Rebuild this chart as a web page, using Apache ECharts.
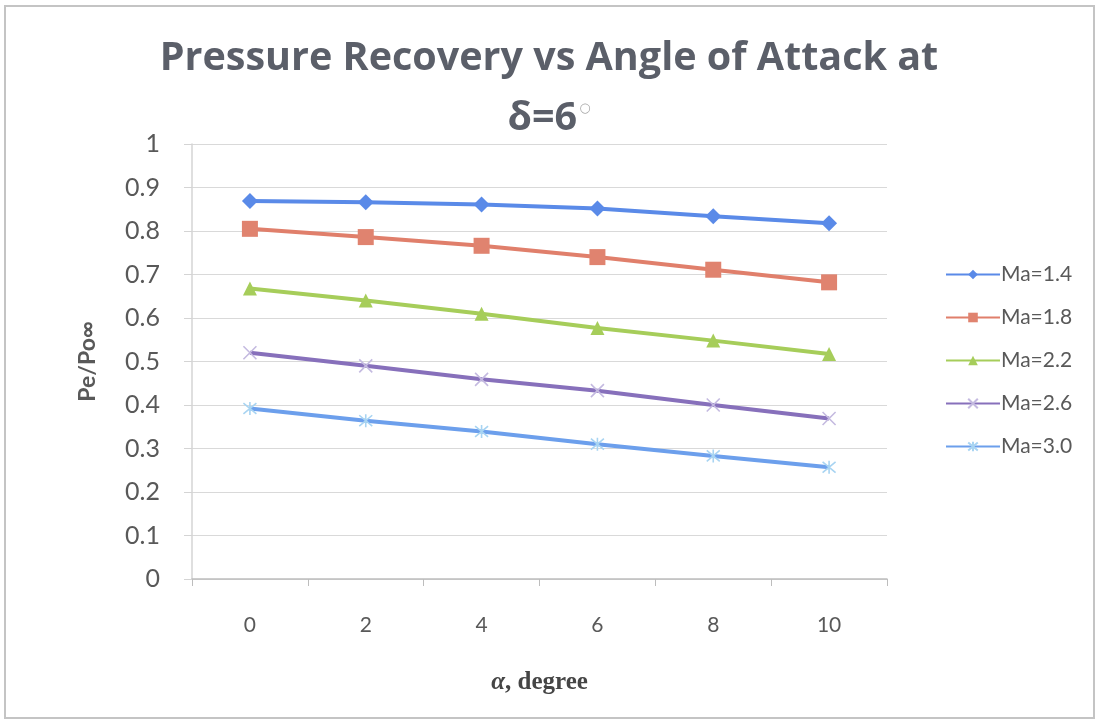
<!DOCTYPE html>
<html>
<head>
<meta charset="utf-8">
<title>Pressure Recovery vs Angle of Attack</title>
<script src="https://cdn.jsdelivr.net/npm/echarts@6/dist/echarts.min.js"></script>
<style>
  html, body { margin: 0; padding: 0; background: #ffffff; }
  #chart { width: 1098px; height: 721px; }
</style>
</head>
<body>
<div id="chart"></div>
<script>
// Angle of attack (degrees)
const angles = ['0', '2', '4', '6', '8', '10'];

// Pressure recovery Pe/Po∞ for each free-stream Mach number
const seriesNames = ['Ma=1.4', 'Ma=1.8', 'Ma=2.2', 'Ma=2.6', 'Ma=3.0'];
const ma14 = [0.869, 0.866, 0.861, 0.852, 0.834, 0.818];
const ma18 = [0.805, 0.786, 0.766, 0.740, 0.711, 0.682];
const ma22 = [0.668, 0.640, 0.610, 0.577, 0.548, 0.517];
const ma26 = [0.520, 0.490, 0.459, 0.433, 0.400, 0.369];
const ma30 = [0.392, 0.364, 0.339, 0.310, 0.283, 0.257];

const yTicks = { min: 0, max: 1, step: 0.1 };

const lineColors = ['#5a8ae8', '#e07f6b', '#a6cd5a', '#8770bb', '#6c9fec'];
const markColors = ['#5a8ae8', '#e0836f', '#a6cd5a', '#c4bae0', '#a8d4f2'];

const crossPath = 'path://M0,0L10,10M10,0L0,10';
const starPath = 'path://M0,0L10,10M10,0L0,10M5,-1L5,11';

const symbolDefs = [
  { symbol: 'diamond', size: 16, stroke: false },
  { symbol: 'rect', size: 16, stroke: false },
  { symbol: 'triangle', size: 14, stroke: false },
  { symbol: crossPath, size: 13, stroke: true },
  { symbol: starPath, size: 13, stroke: true }
];

const dataSets = [ma14, ma18, ma22, ma26, ma30];

const series = dataSets.map((values, i) => {
  const def = symbolDefs[i];
  return {
    name: seriesNames[i],
    type: 'line',
    data: values,
    symbol: def.symbol,
    symbolSize: def.size,
    showSymbol: true,
    z: 2 + i,
    lineStyle: { color: lineColors[i], width: 4 },
    itemStyle: def.stroke
      ? { color: 'rgba(0,0,0,0)', borderColor: markColors[i], borderWidth: 1.6 }
      : { color: markColors[i], borderWidth: 0 },
    emphasis: { disabled: true },
    animation: false
  };
});

const chart = echarts.init(document.getElementById('chart'), null, { renderer: 'canvas' });

chart.setOption({
  backgroundColor: '#ffffff',
  animation: false,
  title: {
    text: 'Pressure Recovery vs Angle of Attack at\nδ=6{deg|○}',
    left: 'center',
    top: 29,
    padding: [0, 0, 0, 12],
    textStyle: {
      fontFamily: 'Open Sans',
      fontWeight: 'bold',
      fontSize: 39.5,
      color: '#5b5f69',
      lineHeight: 60,
      rich: {
        deg: {
          fontFamily: 'DejaVu Sans',
          fontSize: 13,
          fontWeight: 'normal',
          color: '#a8a8a8',
          padding: [0, 0, 20, 2]
        }
      }
    }
  },
  legend: {
    orient: 'vertical',
    left: 940,
    top: 259,
    itemWidth: 54,
    itemHeight: 12,
    itemGap: 22,
    data: seriesNames,
    textStyle: {
      fontFamily: 'Lato',
      fontSize: 21,
      color: '#595959',
      padding: [0, 0, 0, -4]
    }
  },
  grid: {
    left: 192,
    right: 211,
    top: 144,
    bottom: 142,
    containLabel: false
  },
  xAxis: {
    type: 'category',
    data: angles,
    boundaryGap: true,
    name: '{a|α}, degree',
    nameLocation: 'middle',
    nameGap: 91,
    nameTextStyle: {
      fontFamily: 'Liberation Serif',
      fontWeight: 'bold',
      fontSize: 25,
      color: '#454545',
      rich: {
        a: {
          fontFamily: 'Liberation Serif',
          fontWeight: 'bold',
          fontStyle: 'italic',
          fontSize: 25,
          color: '#454545'
        }
      }
    },
    axisLine: { lineStyle: { color: '#bdbdbd', width: 1.5 } },
    axisTick: { show: true, alignWithLabel: false, length: 7, lineStyle: { color: '#bdbdbd' } },
    axisLabel: {
      margin: 36,
      fontFamily: 'Lato',
      fontSize: 21,
      color: '#595959'
    },
    splitLine: { show: false }
  },
  yAxis: {
    type: 'value',
    min: yTicks.min,
    max: yTicks.max,
    interval: yTicks.step,
    name: 'Pe/Po∞',
    nameLocation: 'middle',
    nameGap: 93,
    nameTextStyle: {
      fontFamily: 'Lato',
      fontWeight: 'bold',
      fontSize: 23,
      color: '#595959'
    },
    axisLine: { show: true, lineStyle: { color: '#d4d4d4', width: 1.5 } },
    axisTick: { show: true, length: 8, lineStyle: { color: '#d4d4d4' } },
    axisLabel: {
      margin: 32,
      fontFamily: 'Lato',
      fontSize: 25,
      color: '#595959',
      formatter: v => (v === 0 || v === 1) ? String(v) : v.toFixed(1)
    },
    splitLine: { lineStyle: { color: '#d9d9d9', width: 1.2 } }
  },
  graphic: [
    {
      type: 'rect',
      shape: { x: 5, y: 6, width: 1089, height: 712 },
      style: { fill: 'none', stroke: '#c4c4c4', lineWidth: 2 },
      silent: true,
      z: -1
    }
  ],
  series: series
});
</script>
</body>
</html>
